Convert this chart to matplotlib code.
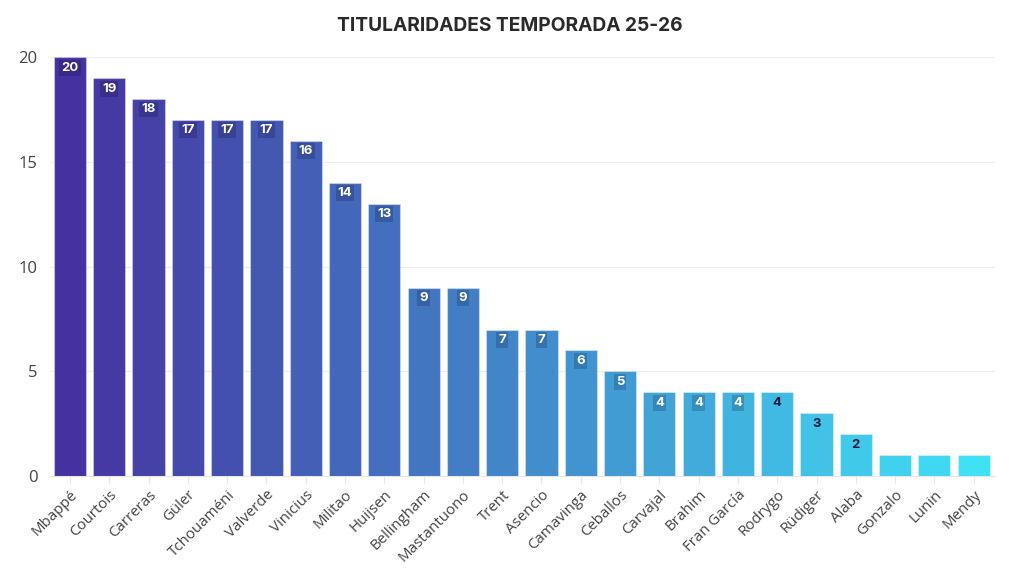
import matplotlib
matplotlib.use("Agg")
import matplotlib.pyplot as plt
import numpy as np
from matplotlib.colors import LinearSegmentedColormap, to_rgb

players = ["Mbappé", "Courtois", "Carreras", "Güler", "Tchouaméni", "Valverde",
           "Vinicius", "Militao", "Huijsen", "Bellingham", "Mastantuono", "Trent",
           "Asencio", "Camavinga", "Ceballos", "Carvajal", "Brahim", "Fran García",
           "Rodrygo", "Rüdiger", "Alaba", "Gonzalo", "Lunin", "Mendy"]
starts = [20, 19, 18, 17, 17, 17, 16, 14, 13, 9, 9, 7, 7, 6, 5, 4, 4, 4, 4, 3, 2, 1, 1, 1]
title = "TITULARIDADES TEMPORADA 25-26"
yticks = [0, 5, 10, 15, 20]

cmap = LinearSegmentedColormap.from_list("g", ["#4532a0", "#40e0f5"])
n = len(players)
colors = [cmap(i / (n - 1)) for i in range(n)]

fig = plt.figure(figsize=(10.2, 5.71), dpi=100)
ax = fig.add_axes([0.049, 0.166, 0.926, 0.734])
x = np.arange(n)
ax.bar(x, starts, width=0.82, color=colors, edgecolor=(1, 1, 1, 0.35), linewidth=0.8, zorder=3)

ax.set_xlim(-0.51, n - 0.47)
ax.set_ylim(0, 20)
ax.set_yticks(yticks)
ax.set_yticklabels([str(t) for t in yticks], fontsize=12, color="#444444", family="Open Sans")
ax.set_xticks(x)
ax.set_xticklabels(players, rotation=45, ha="right", rotation_mode="anchor",
                   fontsize=10.8, color="#444444", family="Open Sans")
ax.tick_params(axis="x", length=5, color="#e6e6e6", pad=3)
ax.tick_params(axis="y", length=0, pad=9)
ax.grid(axis="y", color="#eeeeee", linewidth=0.8, zorder=0)
for s in ["top", "right", "left"]:
    ax.spines[s].set_visible(False)
ax.spines["bottom"].set_color("#e6e6e6")

for i, v in enumerate(starts):
    if v < 2:
        continue
    r, g, b = to_rgb(colors[i])[:3]
    dark = v <= 4 and i >= 18
    tc = "#1a1a40" if dark else "white"
    box = (r * 0.7, g * 0.7, b * 0.75, 0.6) if not dark else (r, g, b, 0.0)
    ax.text(i, v - 0.5, str(v), ha="center", va="center", fontsize=9.5,
            fontweight="bold", color=tc, family="Inter", zorder=4,
            bbox=dict(boxstyle="square,pad=0.15", fc=box, ec="none"))

fig.suptitle(title, x=0.5, y=0.97, fontsize=13.8, fontweight="bold",
             color="#2a2a2a", family="Inter")
fig.savefig("out.png", dpi=100, facecolor="white")
